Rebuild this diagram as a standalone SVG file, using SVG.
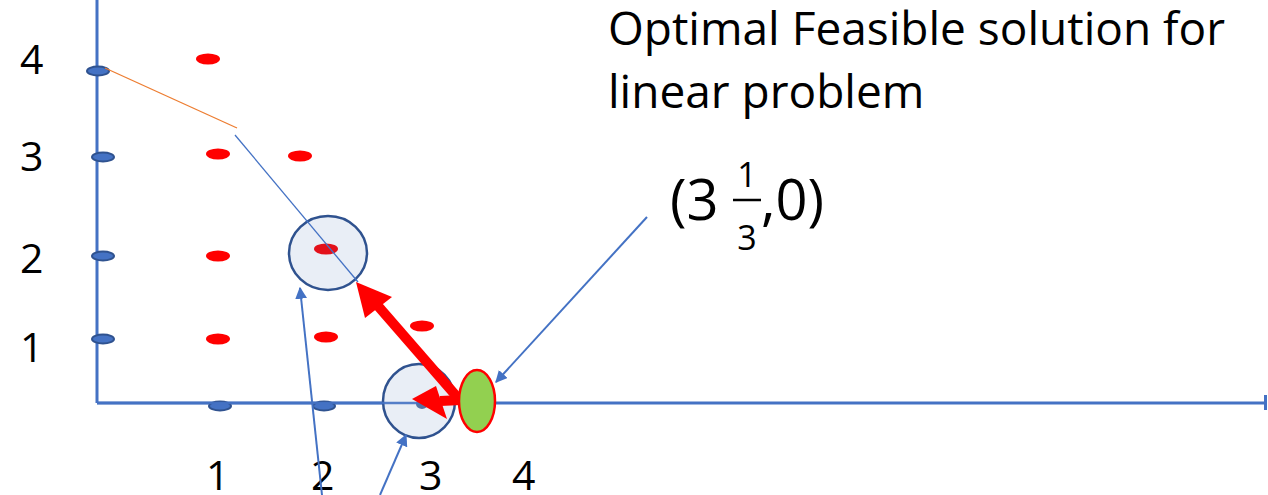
<svg xmlns="http://www.w3.org/2000/svg" width="1268" height="495" viewBox="0 0 1268 495">
<style>
.t{font-family:"Open Sans","Liberation Sans",sans-serif;fill:#000}
.n{font-size:41px}
.ax{stroke:#4472C4;stroke-width:3;fill:none}
.bd{fill:#4472C4;stroke:#2F528F;stroke-width:2}
.rd{fill:#FF0000}
.ring{fill:#E9EEF6;stroke:#2F528F;stroke-width:2.5}
.ptr{stroke:#4472C4;stroke-width:2;fill:none;marker-end:url(#ah)}
</style>
<defs>
<marker id="ah" viewBox="0 0 10 10" refX="9" refY="5" markerWidth="6" markerHeight="6" orient="auto" markerUnits="strokeWidth">
<path d="M0,0 L10,5 L0,10 z" fill="#4472C4"/>
</marker>
</defs>
<rect width="1268" height="495" fill="#fff"/>
<g id="axes">
<line class="ax" x1="97" y1="0" x2="97" y2="403"/>
<line class="ax" x1="97" y1="403" x2="1266" y2="403"/>
<rect x="1264" y="395" width="3" height="15" fill="#4472C4"/>
</g>
<g id="labels">
<text class="t n" x="20" y="74">4</text>
<text class="t n" x="20" y="171">3</text>
<text class="t n" x="20" y="273">2</text>
<text class="t n" x="20" y="362">1</text>
<text class="t n" x="206" y="490">1</text>
<text class="t n" x="311" y="490">2</text>
<text class="t n" x="419" y="490">3</text>
<text class="t n" x="512" y="490">4</text>
</g>
<g id="blue-dots">
<ellipse class="bd" cx="98" cy="71" rx="11" ry="4.5"/>
<ellipse class="bd" cx="103" cy="157" rx="11" ry="4.5"/>
<ellipse class="bd" cx="103" cy="256" rx="11" ry="4.5"/>
<ellipse class="bd" cx="103" cy="339" rx="11" ry="4.5"/>
<ellipse class="bd" cx="220" cy="406" rx="11" ry="4.5"/>
<ellipse class="bd" cx="324" cy="406" rx="11" ry="4.5"/>
</g>
<g id="red-dots">
<ellipse class="rd" cx="208" cy="59" rx="12" ry="5.5"/>
<ellipse class="rd" cx="218" cy="154" rx="12" ry="5.5"/>
<ellipse class="rd" cx="300" cy="156" rx="12" ry="5.5"/>
<ellipse class="rd" cx="218" cy="256" rx="12" ry="5.5"/>
<ellipse class="rd" cx="218" cy="339" rx="12" ry="5.5"/>
<ellipse class="rd" cx="326" cy="337" rx="12" ry="5.5"/>
<ellipse class="rd" cx="422" cy="326" rx="12" ry="5.5"/>
</g>
<g id="constraint-lines">
<line x1="105" y1="68" x2="237" y2="128" stroke="#ED7D31" stroke-width="1.3"/>
</g>
<g id="circle-2-2">
<ellipse class="ring" cx="328" cy="253" rx="39" ry="37"/>
<ellipse cx="326" cy="249" rx="12" ry="5.5" fill="#E3101A"/>
</g>
<g id="circle-3-0">
<ellipse class="ring" cx="419" cy="401" rx="36" ry="37"/>
<ellipse cx="422" cy="404" rx="6" ry="5" fill="#2F528F" opacity="0.8"/>
</g>
<line x1="235" y1="135" x2="358" y2="282" stroke="#4472C4" stroke-width="1.3"/>
<line x1="97" y1="403" x2="470" y2="403" stroke="#4472C4" stroke-width="2.5" opacity="0.9"/>
<g id="connectors">
<line x1="458" y1="398" x2="378" y2="306" stroke="#FF0000" stroke-width="10"/>
<polygon points="356,282 365,318 392,297" fill="#FF0000"/>
<line x1="462" y1="400" x2="440" y2="401" stroke="#FF0000" stroke-width="10"/>
<polygon points="412,399 436,386 447,419" fill="#FF0000"/>
<line class="ptr" x1="322" y1="495" x2="300" y2="288"/>
<line class="ptr" x1="380" y1="495" x2="406" y2="435"/>
<line class="ptr" x1="647" y1="217" x2="496" y2="382"/>
</g>
<g id="optimal-point">
<ellipse cx="477" cy="401" rx="18" ry="31" fill="#92D050" stroke="#FF0000" stroke-width="2.5"/>
</g>
<g id="title">
<text class="t" x="608" y="45" font-size="46">Optimal Feasible solution for</text>
<text class="t" x="608" y="108" font-size="46">linear problem</text>
</g>
<g id="coordinate">
<text class="t" x="670" y="220" font-size="56">(3</text>
<text class="t" x="747" y="187" font-size="34" text-anchor="middle">1</text>
<line x1="733" y1="200" x2="761" y2="200" stroke="#000" stroke-width="2.5"/>
<text class="t" x="747" y="250" font-size="34" text-anchor="middle">3</text>
<text class="t" x="761" y="220" font-size="56">,0)</text>
</g>
</svg>
